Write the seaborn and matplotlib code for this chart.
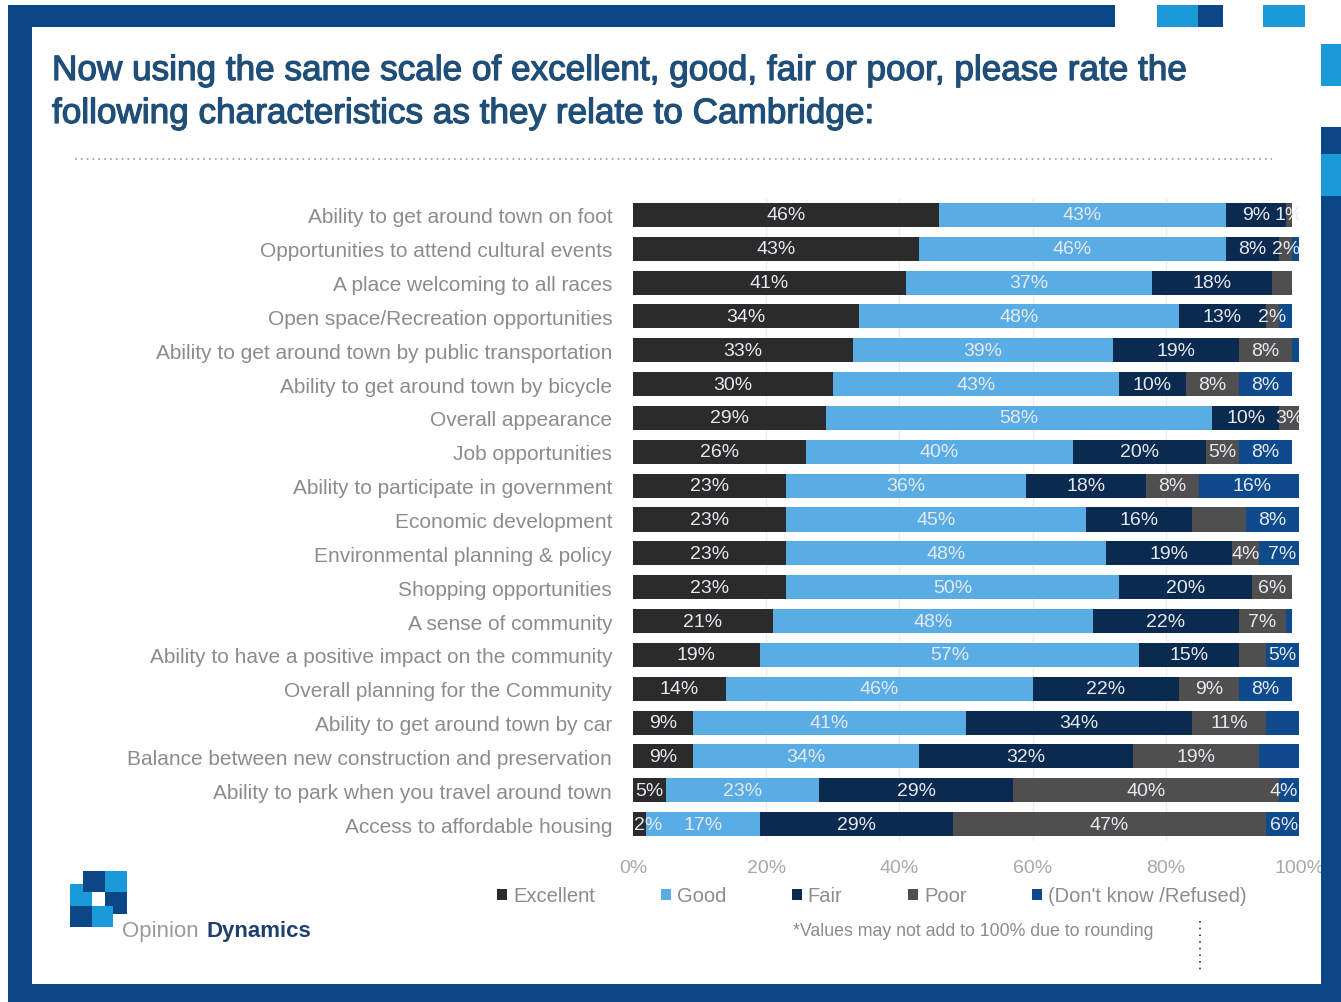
import matplotlib
matplotlib.use("Agg")
import matplotlib.pyplot as plt
from matplotlib.patches import Rectangle, Patch
from matplotlib.lines import Line2D
import matplotlib.patheffects as pe
import seaborn as sns
import pandas as pd

# ---- survey results (percent of respondents) ----
categories = [
    "Ability to get around town on foot",
    "Opportunities to attend cultural events",
    "A place welcoming to all races",
    "Open space/Recreation opportunities",
    "Ability to get around town by public transportation",
    "Ability to get around town by bicycle",
    "Overall appearance",
    "Job opportunities",
    "Ability to participate in government",
    "Economic development",
    "Environmental planning & policy",
    "Shopping opportunities",
    "A sense of community",
    "Ability to have a positive impact on the community",
    "Overall planning for the Community",
    "Ability to get around town by car",
    "Balance between new construction and preservation",
    "Ability to park when you travel around town",
    "Access to affordable housing",
]
excellent = [46, 43, 41, 34, 33, 30, 29, 26, 23, 23, 23, 23, 21, 19, 14, 9, 9, 5, 2]
good = [43, 46, 37, 48, 39, 43, 58, 40, 36, 45, 48, 50, 48, 57, 46, 41, 34, 23, 17]
fair = [9, 8, 18, 13, 19, 10, 10, 20, 18, 16, 19, 20, 22, 15, 22, 34, 32, 29, 29]
poor = [1, 2, 3, 2, 8, 8, 3, 5, 8, 8, 4, 6, 7, 4, 9, 11, 19, 40, 47]
dont_know = [0, 1, 0, 2, 1, 8, 0, 8, 16, 8, 7, 0, 1, 5, 8, 5, 6, 4, 6]

series_names = ["Excellent", "Good", "Fair", "Poor", "(Don't know /Refused)"]
series_colors = ["#2b2b2b", "#5aade4", "#0b2a50", "#4f4f4f", "#0e4a8c"]

# segments whose value label is left off (too narrow to print)
unlabeled = [
    (1, 4), (2, 3), (3, 4), (4, 4), (9, 3), (12, 4), (13, 3), (15, 4), (16, 4),
]

tick_values = [0, 20, 40, 60, 80, 100]
tick_labels = ["0%", "20%", "40%", "60%", "80%", "100%"]

title_lines = [
    "Now using the same scale of excellent, good, fair or poor, please rate the",
    "following characteristics as they relate to Cambridge:",
]
footnote = "*Values may not add to 100% due to rounding"

# ---- figure ----
sns.set_theme(style="white")
plt.rcParams["font.family"] = ["Liberation Sans", "DejaVu Sans"]

W, H = 1341, 1003
fig = plt.figure(figsize=(W / 100, H / 100), dpi=100)
fig.patch.set_facecolor("white")


def px_rect(x0, y0, x1, y1, color, z=5):
    fig.add_artist(Rectangle((x0 / W, 1 - y1 / H), (x1 - x0) / W, (y1 - y0) / H,
                             transform=fig.transFigure, facecolor=color,
                             edgecolor="none", zorder=z))


ax = fig.add_axes([633 / W, 1 - 842 / H, 666 / W, 643 / H])

values = [excellent, good, fair, poor, dont_know]
df = pd.DataFrame({name: v for name, v in zip(series_names, values)}, index=categories)
cum = df.cumsum(axis=1)

# stacked bars: draw cumulative totals from the outermost segment inwards
for k in range(len(series_names) - 1, -1, -1):
    d = pd.DataFrame({"category": categories, "total": cum.iloc[:, k].values})
    sns.barplot(data=d, x="total", y="category", orient="h", color=series_colors[k],
                saturation=1, width=0.71, ax=ax, zorder=2, edgecolor="none")

# value labels centred in each segment; segments running past 100% get pulled inwards
half = 2.3
for i in range(len(categories)):
    start = 0
    for k in range(len(series_names)):
        v = values[k][i]
        if v > 0 and (i, k) not in unlabeled:
            xc = max(start + v / 2, half)
            if start + v > 100:
                xc = min(xc, 100 - half)
            ax.text(xc, i, f"{v}%", ha="center", va="center",
                    fontsize=14, color="#e6e9ee", zorder=4, clip_on=True)
        start += v

ax.set_xlim(0, 100)
ax.set_ylim(len(categories) - 0.5, -0.5)
ax.set_xticks(tick_values)
ax.set_xticklabels(tick_labels, fontsize=14, color="#a8a8a8")
ax.tick_params(axis="x", length=0, pad=13)
ax.tick_params(axis="y", length=0, pad=15)
ax.set_yticks(range(len(categories)))
ax.set_yticklabels(categories, fontsize=15, color="#8c8c8c")
ax.set_xlabel("")
ax.set_ylabel("")
for s in ax.spines.values():
    s.set_visible(False)
for t in tick_values[1:-1]:
    ax.axvline(t, color="#ececec", lw=1, zorder=0)

# legend
handles = [Patch(facecolor=c, edgecolor="none") for c in series_colors]
leg = fig.legend(handles, series_names, loc="center", bbox_to_anchor=(872 / W, 1 - 897 / H),
                 ncol=5, frameon=False, fontsize=14.5, handlelength=0.5, handleheight=0.5,
                 handletextpad=0.3, columnspacing=3.25)
for t in leg.get_texts():
    t.set_color("#8c8c8c")

# ---- title and notes ----
thick = [pe.withStroke(linewidth=0.9, foreground="#1f4e79")]
fig.text(52 / W, 1 - 81 / H, title_lines[0], fontsize=25.3, color="#1f4e79",
         va="baseline", ha="left", path_effects=thick)
fig.text(52 / W, 1 - 124 / H, title_lines[1], fontsize=25.3, color="#1f4e79",
         va="baseline", ha="left", path_effects=thick)
fig.add_artist(Line2D([75 / W, 1272 / W], [1 - 160 / H, 1 - 160 / H], transform=fig.transFigure,
                      color="#9a9a9a", lw=1.2, linestyle=(0, (1, 2.5))))
fig.text(973 / W, 1 - 932 / H, footnote, fontsize=12.8, color="#8c8c8c",
         ha="center", va="center")
fig.add_artist(Line2D([1200 / W, 1200 / W], [1 - 922 / H, 1 - 972 / H], transform=fig.transFigure,
                      color="#333333", lw=1.2, linestyle=(0, (1, 3))))

# ---- frame ----
DARK = "#0b4787"
LIGHT = "#1a9ad8"
px_rect(8, 6, 1115, 28, DARK)
px_rect(8, 6, 32, 1003, DARK)
px_rect(8, 985, 1341, 1003, DARK)
px_rect(1157, 6, 1198, 28, LIGHT)
px_rect(1198, 6, 1223, 28, DARK)
px_rect(1263, 6, 1305, 28, LIGHT)
px_rect(1321, 45, 1341, 87, LIGHT)
px_rect(1321, 128, 1341, 1003, DARK)
px_rect(1321, 155, 1341, 197, LIGHT)

# ---- logo ----
px_rect(70, 885, 92, 907, LIGHT, 6)
px_rect(83, 872, 105, 893, DARK, 6)
px_rect(105, 872, 127, 893, LIGHT, 6)
px_rect(92, 893, 104, 907, "white", 6)
px_rect(105, 893, 127, 915, DARK, 6)
px_rect(70, 907, 92, 928, DARK, 6)
px_rect(92, 907, 113, 928, LIGHT, 6)
fig.text(122 / W, 1 - 932 / H, "Opinion", fontsize=16, color="#9a9a9a", va="center", ha="left")
fig.text(206 / W, 1 - 932 / H, "Dynamics", fontsize=16, color="#1f3f6e", weight="bold",
         va="center", ha="left")

fig.savefig("out.png", dpi=100)
